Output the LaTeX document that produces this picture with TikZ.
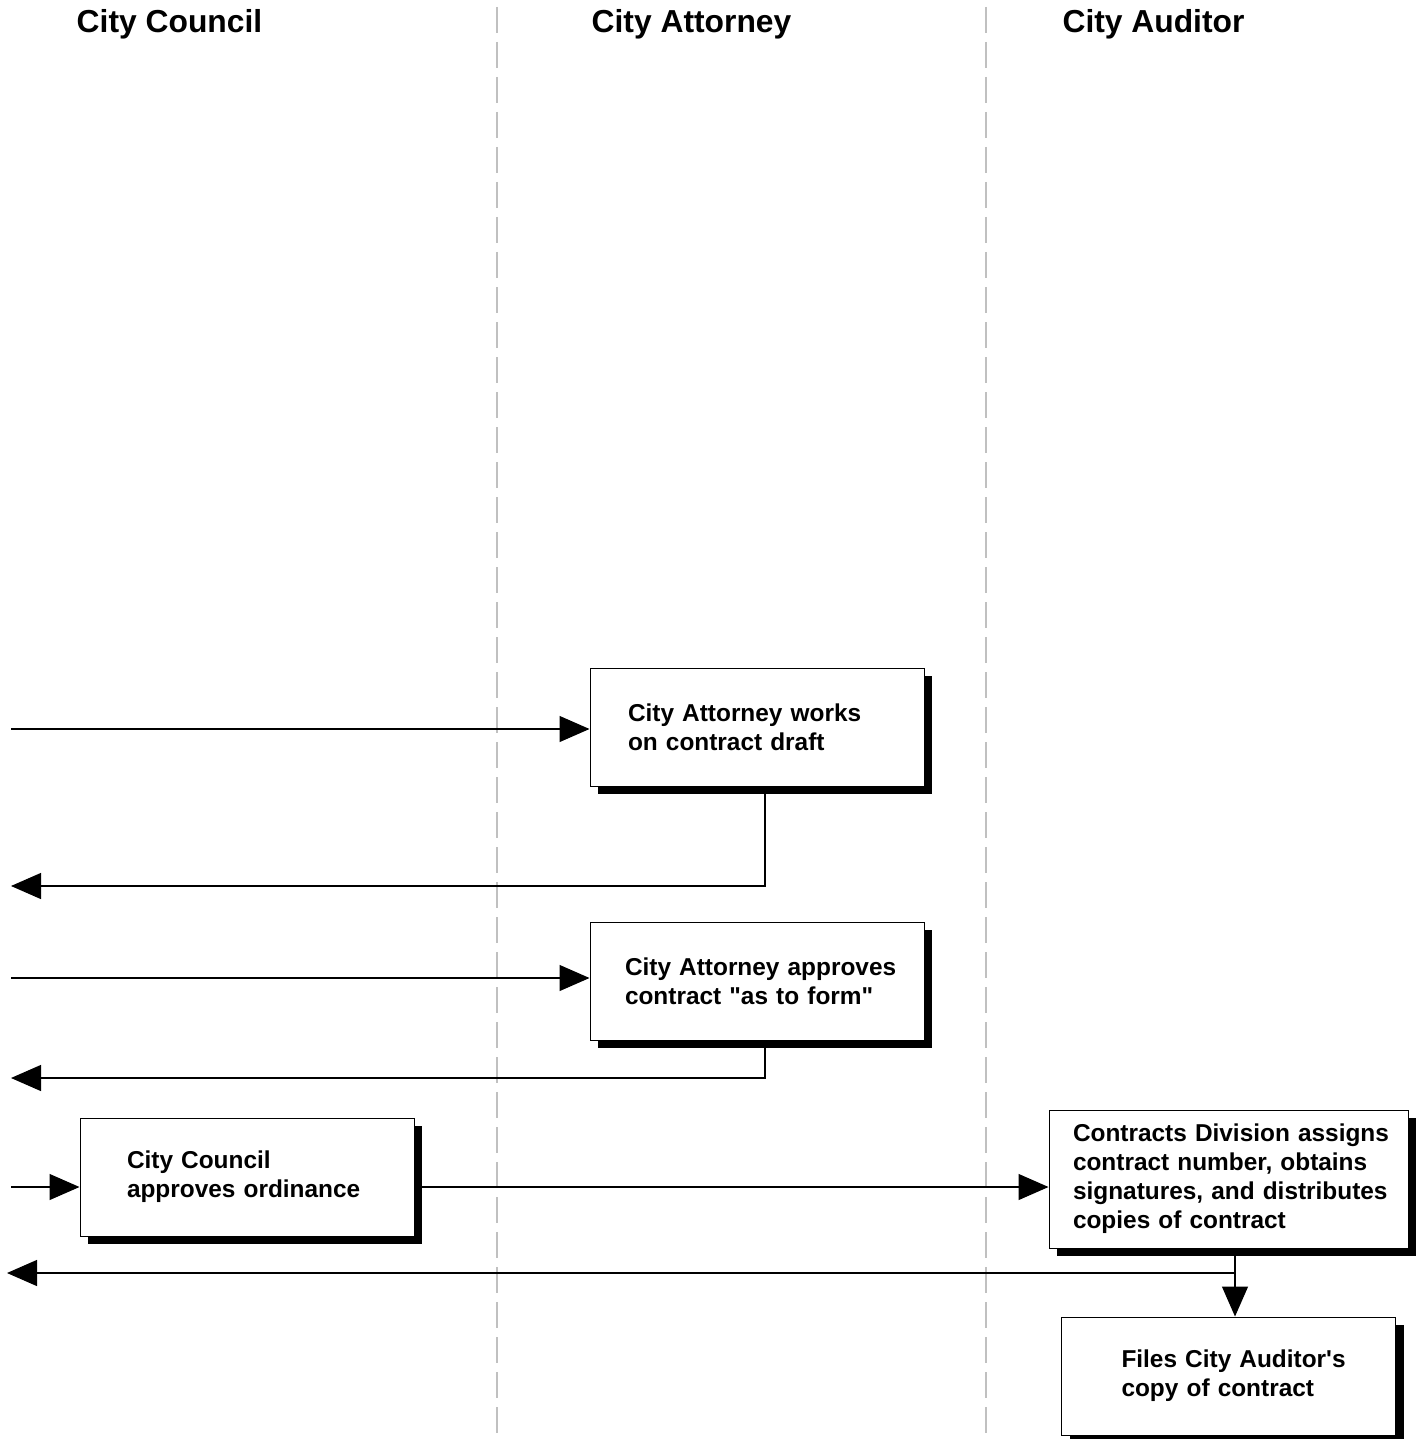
\documentclass[tikz,border=0pt]{standalone}
\usepackage{fontspec}
\newfontfamily\lsans{Liberation Sans}
\usepackage{xcolor}
\usetikzlibrary{arrows.meta,positioning,shadows}
\definecolor{lanegray}{RGB}{192,192,192}
\tikzset{
  pbox/.style={rectangle, draw=black, line width=0.5pt, fill=white, align=left,
               minimum height=59pt, font=\lsans\fontsize{12.2}{14.5}\selectfont\bfseries,
               drop shadow={shadow xshift=4pt, shadow yshift=-4pt, fill=black, opacity=1}},
  ar/.style={-{Triangle[length=15pt,width=13pt]}, line width=0.6pt},
  lane/.style={draw=lanegray, line width=1pt, dash pattern=on 13pt off 4.5pt}
}
\begin{document}
\begin{tikzpicture}[
  x=0.5pt, y=-0.5pt,
  lanehead/.style={font=\lsans\fontsize{15.9}{19}\selectfont\bfseries, inner sep=0pt}
]
\useasboundingbox (0,0) rectangle (1423,1439);
\draw[lane] (497,7) -- (497,1439);
\draw[lane] (986,7) -- (986,1439);
\node[lanehead] (hcouncil) at (169.5,24) {City Council};
\node[lanehead] (hattorney) at (691.5,24) {City Attorney};
\node[lanehead] (hauditor) at (1153.5,24) {City Auditor};
\node[pbox, text width=129pt, inner xsep=19pt] (draft) at (757,727) {City Attorney works\\on contract draft};
\node[pbox, text width=132pt, inner xsep=17.5pt] (form) at (757,981) {\mbox{City Attorney approves}\\contract "as to form"};
\node[pbox, text width=120pt, inner xsep=23.5pt] (ord) at (247,1177) {City Council\\approves ordinance};
\node[pbox, text width=155.5pt, inner xsep=12pt, minimum height=69pt] (assign) at (1228.5,1179) {\mbox{Contracts Division assigns}\\contract number, obtains\\\mbox{signatures, and distributes}\\copies of contract};
\node[pbox, text width=107pt, inner xsep=30pt, below=34pt of assign] (file) {\mbox{Files City Auditor's}\\copy of contract};
\coordinate (in1) at (11,729);
\coordinate (back1) at (11,886);
\coordinate (in2) at (11,978);
\coordinate (back2) at (11,1078);
\coordinate (in3) at (11,1187);
\coordinate (back3) at (7,1273);
\draw[ar] (in1) -- (in1 -| draft.west);
\draw[ar] ([xshift=4pt]draft.south) |- (back1);
\draw[ar] (in2) -- (in2 -| form.west);
\draw[ar] ([xshift=4pt]form.south) |- (back2);
\draw[ar] (in3) -- (in3 -| ord.west);
\draw[ar] (in3 -| ord.east) -- (in3 -| assign.west);
\draw[ar] ([xshift=3.25pt]assign.south) -- ([xshift=3.25pt]assign.south |- file.north);
\draw[ar] ([xshift=3.25pt]assign.south) |- (back3);
\end{tikzpicture}
\end{document}
